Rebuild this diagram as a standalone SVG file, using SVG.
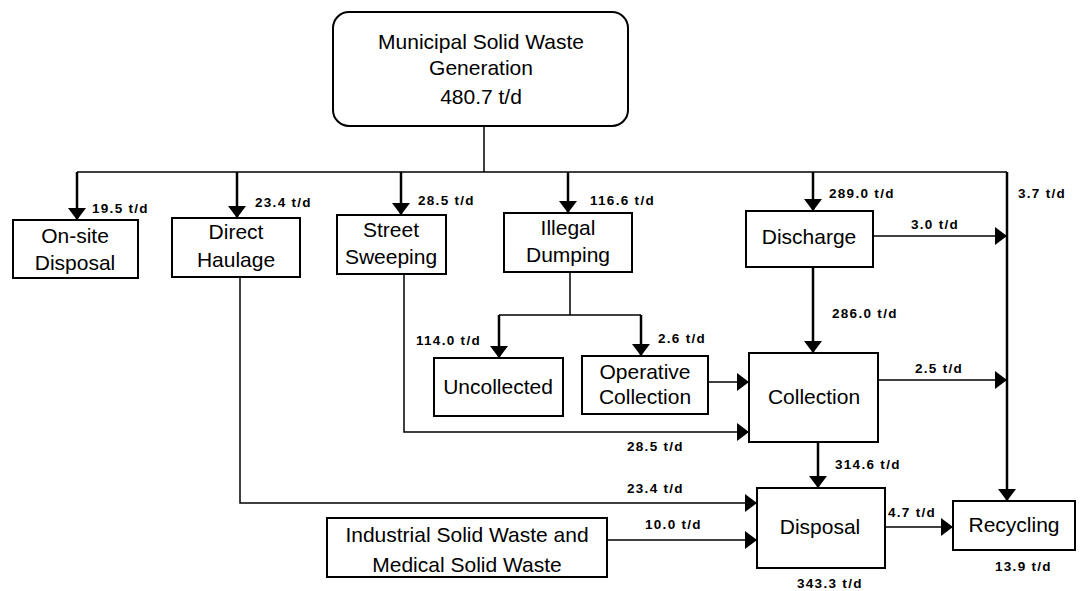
<svg xmlns="http://www.w3.org/2000/svg" width="1080" height="591" viewBox="0 0 1080 591">
  <defs>
    <marker id="arr" viewBox="0 0 12 18" refX="12" refY="9" markerWidth="12" markerHeight="18" markerUnits="userSpaceOnUse" orient="auto">
      <path d="M0,0 L12,9 L0,18 z" fill="#000"/>
    </marker>
    <style>
      .box { fill: #fff; stroke: #000; stroke-width: 2; }
      .node { font-family: "Liberation Sans", Arial, sans-serif; font-size: 21px; fill: #000; text-anchor: middle; }
      .lbl { font-family: "Liberation Sans", Arial, sans-serif; font-size: 13.5px; font-weight: bold; letter-spacing: 1.3px; fill: #000; }
      .thick { fill: none; stroke: #000; stroke-width: 2.5; }
      .thin { fill: none; stroke: #000; stroke-width: 1.5; }
    </style>
  </defs>
  <rect width="1080" height="591" fill="#fff"/>

  <!-- connectors -->
  <g id="connectors">
    <!-- trunk and distribution bus -->
    <path class="thin" d="M484,126 V172 M77,172 H1007"/>
    <path class="thick" d="M77,172 V220" marker-end="url(#arr)"/>
    <path class="thick" d="M237,172 V218" marker-end="url(#arr)"/>
    <path class="thick" d="M401,172 V215" marker-end="url(#arr)"/>
    <path class="thick" d="M568,172 V213" marker-end="url(#arr)"/>
    <path class="thick" d="M813,172 V211" marker-end="url(#arr)"/>
    <path class="thick" d="M1007,172 V501" marker-end="url(#arr)"/>
    <!-- discharge flows -->
    <path class="thin" d="M873,236 H1007" marker-end="url(#arr)"/>
    <path class="thick" d="M813,267 V353" marker-end="url(#arr)"/>
    <!-- illegal dumping split -->
    <path class="thin" d="M570,272 V315 M499,315 H641"/>
    <path class="thick" d="M499,315 V358" marker-end="url(#arr)"/>
    <path class="thick" d="M641,315 V356" marker-end="url(#arr)"/>
    <path class="thin" d="M708,382 H749" marker-end="url(#arr)"/>
    <!-- street sweeping to collection -->
    <path class="thin" d="M404,274 V432 H749" marker-end="url(#arr)"/>
    <!-- collection flows -->
    <path class="thin" d="M878,380 H1007" marker-end="url(#arr)"/>
    <path class="thick" d="M818,442 V488" marker-end="url(#arr)"/>
    <!-- direct haulage to disposal -->
    <path class="thin" d="M240,277 V503 H757" marker-end="url(#arr)"/>
    <!-- industrial waste to disposal -->
    <path class="thin" d="M607,540 H757" marker-end="url(#arr)"/>
    <!-- disposal to recycling -->
    <path class="thin" d="M885,527 H953" marker-end="url(#arr)"/>
  </g>

  <!-- flow labels -->
  <g id="labels">
    <text class="lbl" x="92" y="213">19.5 t/d</text>
    <text class="lbl" x="255" y="207">23.4 t/d</text>
    <text class="lbl" x="418" y="205">28.5 t/d</text>
    <text class="lbl" x="590" y="205">116.6 t/d</text>
    <text class="lbl" x="829" y="198">289.0 t/d</text>
    <text class="lbl" x="1018" y="198">3.7 t/d</text>
    <text class="lbl" x="911" y="229">3.0 t/d</text>
    <text class="lbl" x="832" y="318">286.0 t/d</text>
    <text class="lbl" x="416" y="345">114.0 t/d</text>
    <text class="lbl" x="658" y="343">2.6 t/d</text>
    <text class="lbl" x="915" y="373">2.5 t/d</text>
    <text class="lbl" x="627" y="451">28.5 t/d</text>
    <text class="lbl" x="835" y="469">314.6 t/d</text>
    <text class="lbl" x="627" y="493">23.4 t/d</text>
    <text class="lbl" x="645" y="529">10.0 t/d</text>
    <text class="lbl" x="888" y="517">4.7 t/d</text>
    <text class="lbl" x="797" y="588">343.3 t/d</text>
    <text class="lbl" x="995" y="571">13.9 t/d</text>
  </g>

  <g id="msw-generation">
    <rect class="box" x="333" y="12" width="295" height="114" rx="16"/>
    <text class="node" x="481" y="49">Municipal Solid Waste</text>
    <text class="node" x="481" y="75">Generation</text>
    <text class="node" x="481" y="104">480.7 t/d</text>
  </g>
  <g id="onsite-disposal">
    <rect class="box" x="13" y="220" width="125" height="58"/>
    <text class="node" x="75" y="243">On-site</text>
    <text class="node" x="75" y="270">Disposal</text>
  </g>
  <g id="direct-haulage">
    <rect class="box" x="172" y="218" width="128" height="59"/>
    <text class="node" x="236" y="239">Direct</text>
    <text class="node" x="236" y="267">Haulage</text>
  </g>
  <g id="street-sweeping">
    <rect class="box" x="337" y="215" width="109" height="59"/>
    <text class="node" x="391" y="237">Street</text>
    <text class="node" x="391" y="264">Sweeping</text>
  </g>
  <g id="illegal-dumping">
    <rect class="box" x="504" y="213" width="128" height="59"/>
    <text class="node" x="568" y="235">Illegal</text>
    <text class="node" x="568" y="262">Dumping</text>
  </g>
  <g id="discharge">
    <rect class="box" x="746" y="211" width="127" height="56"/>
    <text class="node" x="809" y="244">Discharge</text>
  </g>
  <g id="uncollected">
    <rect class="box" x="434" y="358" width="129" height="58"/>
    <text class="node" x="498" y="394">Uncollected</text>
  </g>
  <g id="operative-collection">
    <rect class="box" x="582" y="356" width="126" height="58"/>
    <text class="node" x="645" y="379">Operative</text>
    <text class="node" x="645" y="404">Collection</text>
  </g>
  <g id="collection">
    <rect class="box" x="749" y="353" width="129" height="89"/>
    <text class="node" x="814" y="404">Collection</text>
  </g>
  <g id="industrial-medical">
    <rect class="box" x="327" y="518" width="280" height="59"/>
    <text class="node" x="467" y="542">Industrial Solid Waste and</text>
    <text class="node" x="467" y="572">Medical Solid Waste</text>
  </g>
  <g id="disposal">
    <rect class="box" x="757" y="488" width="128" height="80"/>
    <text class="node" x="820" y="534">Disposal</text>
  </g>
  <g id="recycling">
    <rect class="box" x="953" y="501" width="122" height="49"/>
    <text class="node" x="1014" y="532">Recycling</text>
  </g>
</svg>
